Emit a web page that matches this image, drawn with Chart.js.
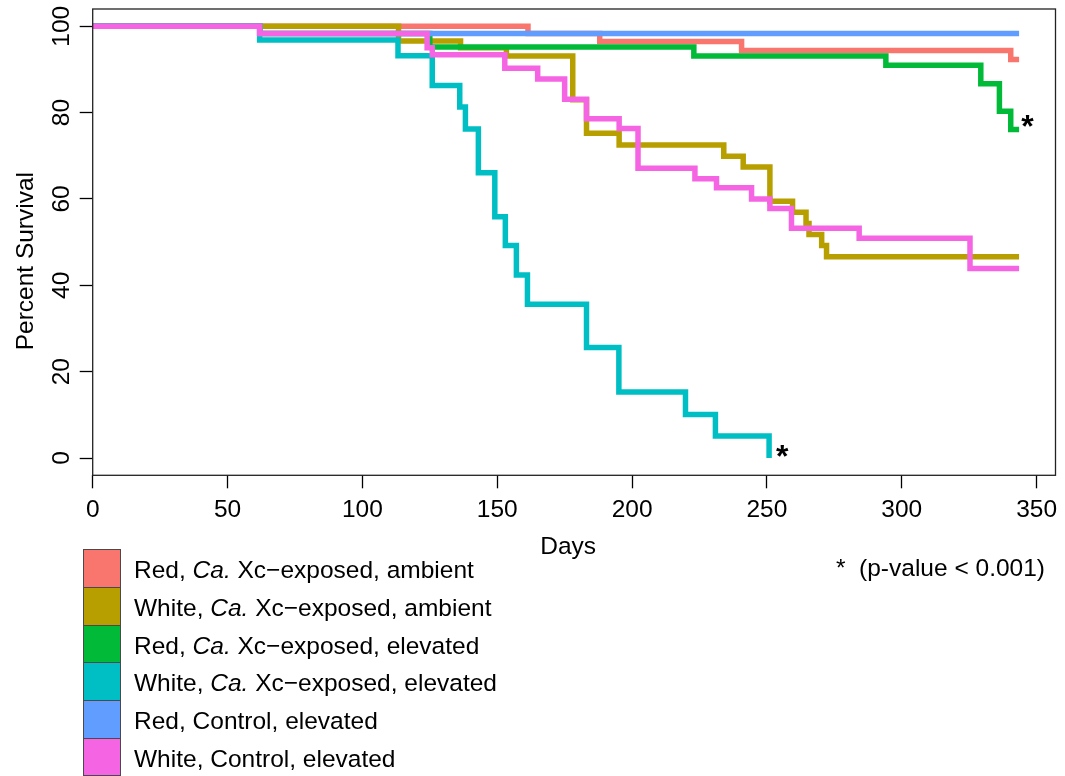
<!DOCTYPE html>
<html>
<head>
<meta charset="utf-8">
<script src="https://cdn.jsdelivr.net/npm/chart.js@4.4.1/dist/chart.umd.min.js"></script>
<style>
html,body{margin:0;padding:0;background:#fff;}
#wrap{position:relative;width:1065px;height:776px;overflow:hidden;font-family:"Liberation Sans",Arial,Helvetica,sans-serif;color:#000;}
#c{position:absolute;left:0;top:0;}
#legend{position:absolute;left:83px;top:549.3px;}
.row{position:relative;height:37.7px;}
.sw{position:absolute;left:0;top:0;width:38px;height:38.7px;box-sizing:border-box;border:1px solid #4a4a4a;}
.lab{position:absolute;left:51px;top:9px;font-size:24.5px;line-height:1;white-space:nowrap;}
#note{position:absolute;right:20px;top:556px;font-size:24.5px;line-height:1;white-space:pre;}
</style>
</head>
<body>
<div id="wrap">
<canvas id="c" width="1065" height="776"></canvas>
<div id="legend"></div>
<div id="note"></div>
</div>
<script>
// ---- data ----
const xTicks = [0, 50, 100, 150, 200, 250, 300, 350];
const yTicks = [0, 20, 40, 60, 80, 100];
const xTitle = "Days";
const yTitle = "Percent Survival";
const noteText = "*  (p-value < 0.001)";

const seriesNames = [
  "Red, Ca. Xc\u2212exposed, ambient",
  "White, Ca. Xc\u2212exposed, ambient",
  "Red, Ca. Xc\u2212exposed, elevated",
  "White, Ca. Xc\u2212exposed, elevated",
  "Red, Control, elevated",
  "White, Control, elevated"
];
const seriesColors = ["#F8766D", "#B79F00", "#00BA38", "#00BFC4", "#619CFF", "#F564E3"];

const studyEndDay = 343.5;

const redAmbDays = [0, 161.4, 188.0, 240.6, 340.4];
const redAmbSurv = [100, 98.3, 96.5, 94.4, 92.3];

const whiteAmbDays = [0, 113.4, 136.4, 153.4, 178.0, 183.1, 195.2, 234.0, 241.2, 251.1, 259.5, 264.5, 265.6, 270.3, 272.1];
const whiteAmbSurv = [100, 96.6, 95.0, 93.1, 83.0, 75.2, 72.5, 69.9, 67.4, 59.5, 56.9, 54.3, 51.8, 49.2, 46.6];

const redElevDays = [0, 62, 125, 222.9, 294.1, 329.3, 336.2, 340.4];
const redElevSurv = [100, 98.3, 95.2, 93.1, 91.0, 86.7, 80.3, 76.1];

const whiteElevDays = [0, 61.9, 113.2, 125.9, 136.1, 138.2, 143.0, 149.1, 153.0, 157.1, 161.2, 183.1, 195.1, 219.8, 230.9, 250.8];
const whiteElevSurv = [100, 96.8, 93.2, 86.3, 81.3, 76.2, 66.1, 55.9, 49.2, 42.4, 35.6, 25.6, 15.3, 10.1, 5.1, 0];

const redCtrlDays = [0, 61.9];
const redCtrlSurv = [100, 98.3];

const whiteCtrlDays = [0, 61.9, 124.0, 125.9, 152.8, 165.0, 175.0, 183.1, 195.2, 202.2, 223.3, 231.3, 244.3, 251.1, 259.1, 284.2, 325.3];
const whiteCtrlSurv = [100, 98.3, 95.0, 93.4, 90.3, 87.8, 83.1, 78.6, 76.3, 67.1, 64.7, 62.6, 60.0, 57.8, 53.2, 50.9, 43.9];

const seriesDays = [redAmbDays, whiteAmbDays, redElevDays, whiteElevDays, redCtrlDays, whiteCtrlDays];
const seriesSurv = [redAmbSurv, whiteAmbSurv, redElevSurv, whiteElevSurv, redCtrlSurv, whiteCtrlSurv];
const seriesRunsToEnd = [true, true, true, false, true, true];

// significance marks (text annotations)
const sigNoteDays = [346.6, 255.7];
const sigNotePct = [78.7, 2.2];
const sigNoteText = ["*", "*"];

// ---- build chart ----
const FONT = '"Liberation Sans", Arial, Helvetica, sans-serif';
const FS = 24.5;

const datasets = seriesNames.map((name, i) => {
  const pts = seriesDays[i].map((d, k) => ({x: d, y: seriesSurv[i][k]}));
  if (seriesRunsToEnd[i]) pts.push({x: studyEndDay, y: seriesSurv[i][seriesSurv[i].length - 1]});
  return {
    label: name,
    data: pts,
    borderColor: seriesColors[i],
    backgroundColor: seriesColors[i],
    borderWidth: 5.5,
    stepped: 'before',
    pointRadius: 0,
    fill: false,
    borderCapStyle: 'butt',
    borderJoinStyle: 'miter',
    order: seriesNames.length - i
  };
});

const boxPlugin = {
  id: 'boxAndMarks',
  afterDatasetsDraw(chart) {
    const {ctx, chartArea: a, scales} = chart;
    ctx.save();
    ctx.strokeStyle = '#222';
    ctx.lineWidth = 1.3;
    ctx.strokeRect(a.left, a.top, a.right - a.left, a.bottom - a.top);
    const sz = 32;
    ctx.fillStyle = '#000';
    ctx.font = 'bold ' + sz + 'px ' + FONT;
    ctx.textAlign = 'center';
    ctx.textBaseline = 'alphabetic';
    sigNoteText.forEach((t, i) => {
      const x = scales.x.getPixelForValue(sigNoteDays[i]);
      const y = scales.y.getPixelForValue(sigNotePct[i]);
      ctx.fillText(t, x, y + 0.575 * sz);
    });
    // axis titles
    ctx.font = FS + 'px ' + FONT;
    ctx.textAlign = 'center';
    ctx.textBaseline = 'middle';
    ctx.fillText(xTitle, (a.left + a.right) / 2 - 6, a.bottom + 72.3);
    ctx.translate(26.4, (a.top + a.bottom) / 2 + 19);
    ctx.rotate(-Math.PI / 2);
    ctx.fillText(yTitle, 0, 0);
    ctx.restore();
  }
};

new Chart(document.getElementById('c').getContext('2d'), {
  type: 'line',
  data: {datasets},
  options: {
    responsive: false,
    animation: false,
    devicePixelRatio: 1,
    layout: {padding: {left: 0, top: 9, right: 9.5, bottom: 210}},
    plugins: {legend: {display: false}, tooltip: {enabled: false}},
    elements: {point: {radius: 0}, line: {tension: 0}},
    scales: {
      x: {
        type: 'linear', min: 0, max: 357,
        afterBuildTicks: s => { s.ticks = xTicks.map(v => ({value: v})); },
        afterFit: s => { s.height = 90.7; s.paddingLeft = 0; s.paddingRight = 0; },
        grid: {display: true, drawOnChartArea: false, drawTicks: true, tickLength: 13, tickColor: '#000', tickWidth: 1.3},
        border: {display: false},
        ticks: {font: {family: FONT, size: FS}, color: '#000', padding: 7.4, maxRotation: 0, minRotation: 0, autoSkip: false},
        title: {display: false, text: xTitle}
      },
      y: {
        type: 'linear', min: -4, max: 104,
        afterBuildTicks: s => { s.ticks = yTicks.map(v => ({value: v})); },
        afterFit: s => { s.width = 92.7; s.paddingTop = 0; s.paddingBottom = 0; },
        grid: {display: true, drawOnChartArea: false, drawTicks: true, tickLength: 13, tickColor: '#000', tickWidth: 1.3},
        border: {display: false},
        ticks: {font: {family: FONT, size: FS, lineHeight: 0.8}, color: '#000', padding: -3, minRotation: 90, maxRotation: 90, crossAlign: 'center', autoSkip: false},
        title: {display: false, text: yTitle}
      }
    }
  },
  plugins: [boxPlugin]
});

// ---- legend (HTML) ----
const legend = document.getElementById('legend');
seriesNames.forEach((name, i) => {
  const row = document.createElement('div');
  row.className = 'row';
  const sw = document.createElement('div');
  sw.className = 'sw';
  sw.style.background = seriesColors[i];
  const lab = document.createElement('div');
  lab.className = 'lab';
  const parts = name.split('Ca.');
  lab.appendChild(document.createTextNode(parts[0]));
  if (parts.length > 1) {
    const it = document.createElement('i');
    it.textContent = 'Ca.';
    lab.appendChild(it);
    lab.appendChild(document.createTextNode(parts[1]));
  }
  row.appendChild(sw);
  row.appendChild(lab);
  legend.appendChild(row);
});
document.getElementById('note').textContent = noteText;
</script>
</body>
</html>
